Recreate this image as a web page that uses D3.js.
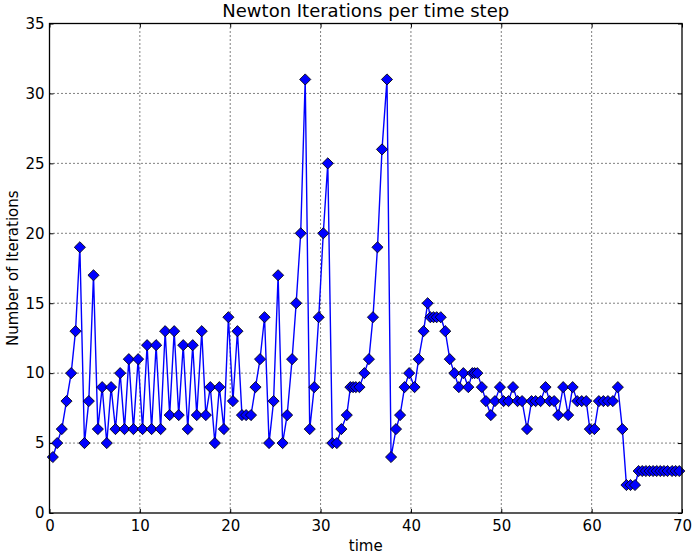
<!DOCTYPE html>
<html lang="en">
  <head>
    <meta charset="utf-8">
    <title>Newton Iterations per time step</title>
    <script src="https://d3js.org/d3.v7.min.js"></script>
    <style>
      body { margin: 0; background: #fff; }
      text { font-family: "DejaVu Sans", sans-serif; fill: #000; }
    </style>
  </head>
  <body>
    <div id="chart"></div>
    <script>

// time of each step (adaptive step)
var times = [
  0.37, 0.85, 1.36, 1.88, 2.4, 2.88, 3.36, 3.87, 4.35, 4.87,
  5.35, 5.83, 6.34, 6.82, 7.3, 7.82, 8.3, 8.78, 9.29, 9.81,
  10.3, 10.8, 11.3, 11.8, 12.3, 12.8, 13.3, 13.8, 14.3, 14.8,
  15.3, 15.85, 16.3, 16.85, 17.3, 17.8, 18.3, 18.8, 19.3, 19.8,
  20.3, 20.8, 21.3, 21.76, 22.3, 22.8, 23.3, 23.8, 24.3, 24.8,
  25.3, 25.8, 26.3, 26.85, 27.3, 27.8, 28.3, 28.8, 29.3, 29.8,
  30.3, 30.8, 31.3, 31.8, 32.3, 32.9, 33.3, 33.6, 33.9, 34.3,
  34.85, 35.35, 35.8, 36.3, 36.8, 37.35, 37.8, 38.35, 38.8, 39.3,
  39.8, 40.4, 40.85, 41.4, 41.85, 42.15, 42.5, 42.85, 43.3, 43.8,
  44.3, 44.8, 45.3, 45.8, 46.35, 46.8, 47.05, 47.35, 47.85, 48.3,
  48.85, 49.3, 49.85, 50.25, 50.8, 51.3, 51.8, 52.3, 52.85, 53.35,
  53.8, 54.35, 54.9, 55.35, 55.85, 56.3, 56.85, 57.4, 57.9, 58.4,
  58.9, 59.4, 59.8, 60.3, 60.8, 61.3, 61.8, 62.35, 62.9, 63.4,
  63.85, 64.3, 64.8, 65.2, 65.6, 66.0, 66.4, 66.8, 67.2, 67.6,
  68.0, 68.4, 68.9, 69.3, 69.7
];

var iterations = [
  4, 5, 6, 8, 10, 13, 19, 5, 8, 17,
  6, 9, 5, 9, 6, 10, 6, 11, 6, 11,
  6, 12, 6, 12, 6, 13, 7, 13, 7, 12,
  6, 12, 7, 13, 7, 9, 5, 9, 6, 14,
  8, 13, 7, 7, 7, 9, 11, 14, 5, 8,
  17, 5, 7, 11, 15, 20, 31, 6, 9, 14,
  20, 25, 5, 5, 6, 7, 9, 9, 9, 9,
  10, 11, 14, 19, 26, 31, 4, 6, 7, 9,
  10, 9, 11, 13, 15, 14, 14, 14, 14, 13,
  11, 10, 9, 10, 9, 10, 10, 10, 9, 8,
  7, 8, 9, 8, 8, 9, 8, 8, 6, 8,
  8, 8, 9, 8, 8, 7, 9, 7, 9, 8,
  8, 8, 6, 6, 8, 8, 8, 8, 9, 6,
  2, 2, 2, 3, 3, 3, 3, 3, 3, 3,
  3, 3, 3, 3, 3
];

var xTicks = [0, 10, 20, 30, 40, 50, 60, 70];
var yTicks = [0, 5, 10, 15, 20, 25, 30, 35];

var data = times.map((t, i) => ({t: t, n: iterations[i]}));

var w = 692, h = 555;
var margin = {top: 23.5, right: 10, bottom: 42, left: 49.5};
var innerWidth = w - margin.left - margin.right;
var innerHeight = h - margin.top - margin.bottom;

var xScale = d3.scaleLinear().domain([0, 70]).range([0, innerWidth]);
var yScale = d3.scaleLinear().domain([0, 35]).range([innerHeight, 0]);

var svg = d3.select("#chart").append("svg")
    .attr("width", w)
    .attr("height", h);

var g = svg.append("g")
    .attr("transform", `translate(${margin.left}, ${margin.top})`);

// grid (dotted, like old matplotlib)
g.append("g").selectAll("line").data(xTicks.slice(1, -1)).enter().append("line")
    .attr("x1", d => xScale(d)).attr("x2", d => xScale(d))
    .attr("y1", 0).attr("y2", innerHeight)
    .attr("stroke", "#000").attr("stroke-width", 1)
    .attr("stroke-dasharray", "1,3");
g.append("g").selectAll("line").data(yTicks.slice(1, -1)).enter().append("line")
    .attr("y1", d => yScale(d)).attr("y2", d => yScale(d))
    .attr("x1", 0).attr("x2", innerWidth)
    .attr("stroke", "#000").attr("stroke-width", 1)
    .attr("stroke-dasharray", "1,3");

// axes with ticks pointing inward
var xAxis = d3.axisBottom(xScale).tickValues(xTicks).tickSize(-4).tickPadding(7);
var yAxis = d3.axisLeft(yScale).tickValues(yTicks).tickSize(-4).tickPadding(5);
var xAxisTop = d3.axisTop(xScale).tickValues(xTicks).tickSize(-4).tickFormat("");
var yAxisRight = d3.axisRight(yScale).tickValues(yTicks).tickSize(-4).tickFormat("");

g.append("g").attr("transform", `translate(0, ${innerHeight})`).call(xAxis);
g.append("g").call(yAxis);
g.append("g").call(xAxisTop);
g.append("g").attr("transform", `translate(${innerWidth}, 0)`).call(yAxisRight);

g.selectAll(".domain").attr("stroke", "none");
g.selectAll(".tick line").attr("stroke", "#000");
g.selectAll(".tick text").style("font-size", "15px").style("font-family", "DejaVu Sans");

// line and markers
var line = d3.line().x(d => xScale(d.t)).y(d => yScale(d.n));
g.append("path").datum(data)
    .attr("d", line)
    .attr("fill", "none")
    .attr("stroke", "#0000ff")
    .attr("stroke-width", 1.4);

var diamond = d3.symbol().type(d3.symbolSquare).size(62);
g.append("g").selectAll("path").data(data).enter().append("path")
    .attr("d", diamond)
    .attr("transform", d => `translate(${xScale(d.t)}, ${yScale(d.n)}) rotate(45)`)
    .attr("fill", "#0000ff")
    .attr("stroke", "#000")
    .attr("stroke-width", 0.8);

// frame
g.append("rect")
    .attr("width", innerWidth).attr("height", innerHeight)
    .attr("fill", "none").attr("stroke", "#000").attr("stroke-width", 1.3);

// labels
svg.append("text")
    .attr("x", margin.left + innerWidth / 2).attr("y", 17)
    .attr("text-anchor", "middle")
    .style("font-size", "18px")
    .text("Newton Iterations per time step");

svg.append("text")
    .attr("x", margin.left + innerWidth / 2).attr("y", 551)
    .attr("text-anchor", "middle")
    .style("font-size", "15px")
    .text("time");

svg.append("text")
    .attr("transform", `translate(18, ${margin.top + innerHeight / 2}) rotate(-90)`)
    .attr("text-anchor", "middle")
    .style("font-size", "15px")
    .text("Number of Iterations");

    </script>
  </body>
</html>
